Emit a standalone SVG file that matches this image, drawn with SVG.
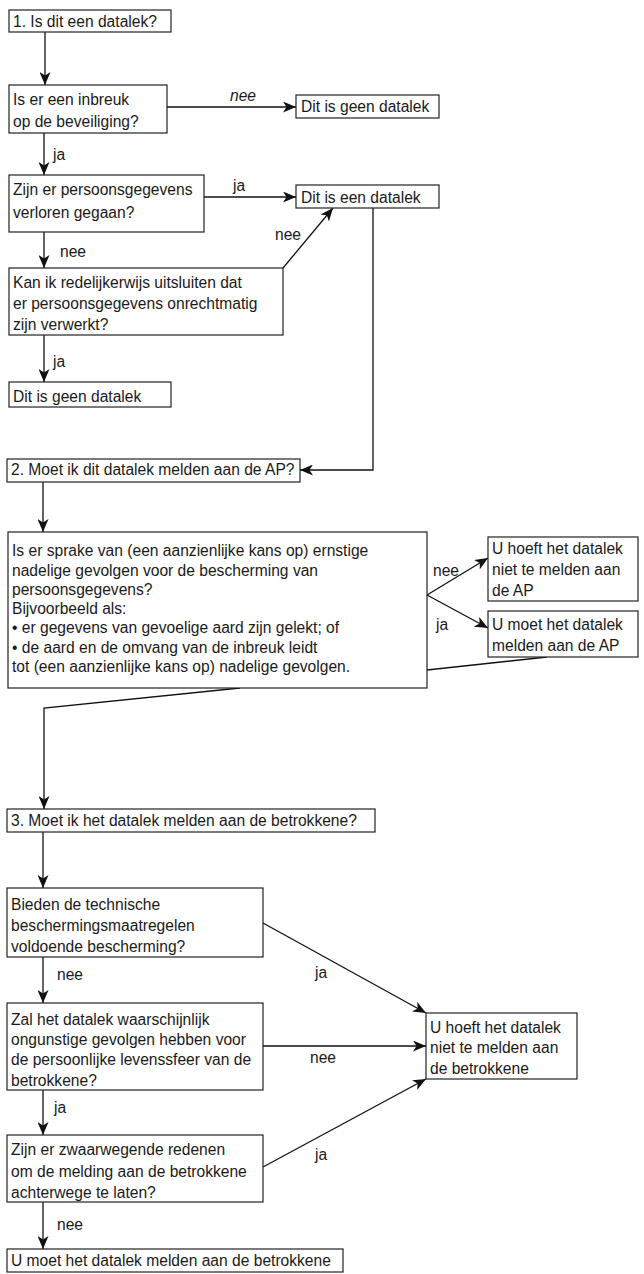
<svg xmlns="http://www.w3.org/2000/svg" width="644" height="1274" viewBox="0 0 644 1274">
<defs>
<marker id="ah" markerUnits="userSpaceOnUse" markerWidth="14" markerHeight="11" refX="13" refY="5.5" orient="auto">
<path d="M0,0 L13,5.5 L0,11 L3.5,5.5 z" fill="#111"/>
</marker>
<style>
rect{fill:#fff;stroke:#222;stroke-width:1.2}
text{font-family:"Liberation Sans",Arial,sans-serif;font-size:15.6px;fill:#1a1a1a}
.c line,.c polyline{stroke:#111;stroke-width:1.3;fill:none}
.a{marker-end:url(#ah)}
.i{font-style:italic}
</style>
</defs>
<rect x="0" y="0" width="644" height="1274" style="fill:#fff;stroke:none"/>
<g class="c" id="connectors">
<line class="a" x1="45" y1="32" x2="45" y2="85"/>
<line class="a" x1="167" y1="107" x2="296" y2="107"/>
<line class="a" x1="44" y1="133" x2="44" y2="175"/>
<line class="a" x1="204" y1="197" x2="296" y2="197"/>
<line class="a" x1="44" y1="232" x2="44" y2="268"/>
<line class="a" x1="283" y1="268" x2="333" y2="208"/>
<line class="a" x1="44" y1="335" x2="44" y2="382"/>
<polyline class="a" points="373,208 373,470 300,470"/>
<line class="a" x1="43" y1="482" x2="43" y2="532"/>
<line class="a" x1="427" y1="595" x2="488" y2="558"/>
<line class="a" x1="427" y1="595" x2="488" y2="628"/>
<line x1="547" y1="657" x2="427" y2="670"/>
<polyline class="a" points="240,688 44,708 44,809"/>
<line class="a" x1="43" y1="832" x2="43" y2="888"/>
<line class="a" x1="263" y1="923" x2="426" y2="1013"/>
<line class="a" x1="43" y1="957" x2="43" y2="1003"/>
<line class="a" x1="263" y1="1046" x2="426" y2="1046"/>
<line class="a" x1="43" y1="1090" x2="43" y2="1135"/>
<line class="a" x1="263" y1="1167" x2="426" y2="1079"/>
<line class="a" x1="43" y1="1202" x2="43" y2="1249"/>
<text class="i" x="230" y="101">nee</text>
<text x="53" y="160">ja</text>
<text x="233" y="191">ja</text>
<text x="60" y="257">nee</text>
<text x="275" y="240">nee</text>
<text x="53" y="367">ja</text>
<text x="433" y="576">nee</text>
<text x="436" y="630">ja</text>
<text x="315" y="978">ja</text>
<text x="57" y="980">nee</text>
<text x="310" y="1063">nee</text>
<text x="54" y="1113">ja</text>
<text x="315" y="1160">ja</text>
<text x="57" y="1230">nee</text>
</g>
<g id="n1"><rect x="9" y="10" width="162" height="22"/><text x="13" y="27">1. Is dit een datalek?</text></g>
<g id="n2"><rect x="9" y="85" width="158" height="48"/><text x="13" y="105">Is er een inbreuk</text><text x="13" y="127">op de beveiliging?</text></g>
<g id="n3"><rect x="296" y="95" width="143" height="23"/><text x="301" y="112">Dit is geen datalek</text></g>
<g id="n4"><rect x="9" y="175" width="195" height="57"/><text x="13" y="195">Zijn er persoonsgegevens</text><text x="13" y="218">verloren gegaan?</text></g>
<g id="n5"><rect x="296" y="185" width="143" height="23"/><text x="301" y="203">Dit is een datalek</text></g>
<g id="n6"><rect x="9" y="268" width="274" height="67"/><text x="13" y="288">Kan ik redelijkerwijs uitsluiten dat</text><text x="13" y="309">er persoonsgegevens onrechtmatig</text><text x="13" y="330">zijn verwerkt?</text></g>
<g id="n7"><rect x="9" y="382" width="162" height="25"/><text x="13" y="402">Dit is geen datalek</text></g>
<g id="n8"><rect x="7" y="459" width="293" height="23"/><text x="11" y="475">2. Moet ik dit datalek melden aan de AP?</text></g>
<g id="n9"><rect x="8" y="532" width="419" height="156"/>
<text x="12" y="556">Is er sprake van (een aanzienlijke kans op) ernstige</text>
<text x="12" y="576">nadelige gevolgen voor de bescherming van</text>
<text x="12" y="595">persoonsgegevens?</text>
<text x="12" y="614">Bijvoorbeeld als:</text>
<text x="12" y="633">• er gegevens van gevoelige aard zijn gelekt; of</text>
<text x="12" y="653">• de aard en de omvang van de inbreuk leidt</text>
<text x="12" y="672">tot (een aanzienlijke kans op) nadelige gevolgen.</text></g>
<g id="n10"><rect x="488" y="537" width="150" height="64"/><text x="492" y="554">U hoeft het datalek</text><text x="492" y="575">niet te melden aan</text><text x="492" y="596">de AP</text></g>
<g id="n11"><rect x="488" y="611" width="150" height="46"/><text x="492" y="630">U moet het datalek</text><text x="492" y="651">melden aan de AP</text></g>
<g id="n12"><rect x="7" y="809" width="368" height="23"/><text x="11" y="826">3. Moet ik het datalek melden aan de betrokkene?</text></g>
<g id="n13"><rect x="7" y="888" width="256" height="69"/><text x="11" y="910">Bieden de technische</text><text x="11" y="931">beschermingsmaatregelen</text><text x="11" y="952">voldoende bescherming?</text></g>
<g id="n14"><rect x="7" y="1003" width="256" height="87"/><text x="11" y="1025">Zal het datalek waarschijnlijk</text><text x="11" y="1045">ongunstige gevolgen hebben voor</text><text x="11" y="1065">de persoonlijke levenssfeer van de</text><text x="11" y="1086">betrokkene?</text></g>
<g id="n15"><rect x="426" y="1013" width="151" height="66"/><text x="430" y="1033">U hoeft het datalek</text><text x="430" y="1053">niet te melden aan</text><text x="430" y="1074">de betrokkene</text></g>
<g id="n16"><rect x="7" y="1135" width="256" height="67"/><text x="11" y="1155">Zijn er zwaarwegende redenen</text><text x="11" y="1177">om de melding aan de betrokkene</text><text x="11" y="1198">achterwege te laten?</text></g>
<g id="n17"><rect x="7" y="1249" width="336" height="23"/><text x="11" y="1266">U moet het datalek melden aan de betrokkene</text></g>
</svg>
